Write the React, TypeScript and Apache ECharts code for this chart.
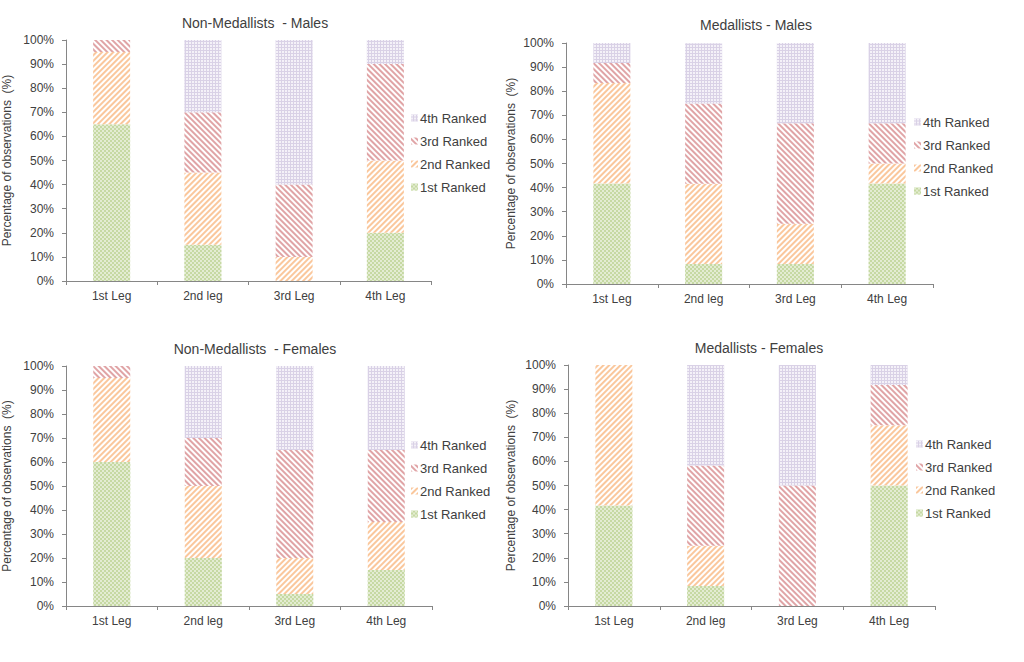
import React, { useEffect, useRef } from "react";
import * as echarts from "echarts";

const legs = ["1st Leg", "2nd leg", "3rd Leg", "4th Leg"];
const ranks = ["1st Ranked", "2nd Ranked", "3rd Ranked", "4th Ranked"];
const yTicks = [0, 10, 20, 30, 40, 50, 60, 70, 80, 90, 100];

const panelTitles = [
  "Non-Medallists  - Males",
  "Medallists - Males",
  "Non-Medallists  - Females",
  "Medallists - Females",
];

// Non-Medallists - Males
const nmMales1st = [65, 15, 0, 20];
const nmMales2nd = [30, 30, 10, 30];
const nmMales3rd = [5, 25, 30, 40];
const nmMales4th = [0, 30, 60, 10];

// Medallists - Males
const mMales1st = [41.7, 8.3, 8.3, 41.7];
const mMales2nd = [41.7, 33.3, 16.7, 8.3];
const mMales3rd = [8.3, 33.3, 41.7, 16.7];
const mMales4th = [8.3, 25, 33.3, 33.3];

// Non-Medallists - Females
const nmFemales1st = [60, 20, 5, 15];
const nmFemales2nd = [35, 30, 15, 20];
const nmFemales3rd = [5, 20, 45, 30];
const nmFemales4th = [0, 30, 35, 35];

// Medallists - Females
const mFemales1st = [41.7, 8.3, 0, 50];
const mFemales2nd = [58.3, 16.7, 0, 25];
const mFemales3rd = [0, 33.3, 50, 16.7];
const mFemales4th = [0, 41.7, 50, 8.3];

const panelData = [
  [nmMales1st, nmMales2nd, nmMales3rd, nmMales4th],
  [mMales1st, mMales2nd, mMales3rd, mMales4th],
  [nmFemales1st, nmFemales2nd, nmFemales3rd, nmFemales4th],
  [mFemales1st, mFemales2nd, mFemales3rd, mFemales4th],
];

const FONT = "Liberation Sans, Arial, sans-serif";
const AXIS = "#868686";
const TXT = "#404040";

const styles = [
  {
    color: "#e3ecd2",
    decal: {
      symbol: "rect",
      symbolSize: 1,
      dashArrayX: [[2, 2], [0, 2, 2, 0]],
      dashArrayY: [2, 0],
      color: "#c6d9a3",
    },
  },
  {
    color: "#ffffff",
    decal: {
      symbol: "rect",
      symbolSize: 1,
      dashArrayX: [1, 0],
      dashArrayY: [1.5, 1.5],
      rotation: -Math.PI / 4,
      color: "#fac79c",
    },
  },
  {
    color: "#ffffff",
    decal: {
      symbol: "rect",
      symbolSize: 1,
      dashArrayX: [1, 0],
      dashArrayY: [1.5, 1.5],
      rotation: Math.PI / 4,
      color: "#e0a4a6",
    },
  },
  {
    color: "#d9d1e6",
    decal: {
      symbol: "rect",
      symbolSize: 1,
      dashArrayX: [2, 1],
      dashArrayY: [2, 1],
      color: "#f4f1f8",
    },
  },
];

const grids = [
  { left: 65, top: 40, width: 366, height: 241 },
  { left: 566, top: 43, width: 367, height: 241 },
  { left: 65, top: 366, width: 367, height: 240 },
  { left: 568, top: 365, width: 367, height: 241 },
];
const titlePos = [
  { x: 250, y: 11 },
  { x: 751, y: 13 },
  { x: 250, y: 337 },
  { x: 754, y: 336 },
];
const legendPos = [
  { x: 406, y: 106 },
  { x: 909, y: 110 },
  { x: 406, y: 433 },
  { x: 911, y: 432 },
];
const nameGaps = [53, 49, 53, 51];

export default function App() {
  const ref = useRef<HTMLDivElement>(null);
  useEffect(() => {
    if (!ref.current) return;
    const chart = echarts.init(ref.current, undefined, { renderer: "svg" });
    const series: any[] = [];
    panelData.forEach((pd, g) => {
      pd.forEach((vals, r) => {
        series.push({
          type: "bar",
          name: ranks[r],
          xAxisIndex: g,
          yAxisIndex: g,
          stack: "s" + g,
          barWidth: 37,
          data: vals,
          itemStyle: { color: styles[r].color, decal: styles[r].decal },
        });
      });
    });
    const option: any = {
      animation: false,
      backgroundColor: "#ffffff",
      textStyle: { fontFamily: FONT },
      title: panelTitles.map((t, i) => ({
        text: t,
        left: titlePos[i].x,
        top: titlePos[i].y,
        textAlign: "center",
        textStyle: { fontFamily: FONT, fontSize: 14, fontWeight: "normal", color: TXT },
      })),
      legend: legendPos.map((p) => ({
        left: p.x,
        top: p.y,
        orient: "vertical",
        data: [ranks[3], ranks[2], ranks[1], ranks[0]],
        icon: "rect",
        itemWidth: 7,
        itemHeight: 7,
        itemGap: 9,
        selectedMode: false,
        textStyle: { fontFamily: FONT, fontSize: 13, color: TXT, lineHeight: 14, padding: [0, 0, 0, -3] },
      })),
      grid: grids.map((g) => ({ ...g, containLabel: false })),
      xAxis: grids.map((_, i) => ({
        type: "category",
        gridIndex: i,
        data: legs,
        axisLine: { lineStyle: { color: AXIS, width: 1 } },
        axisTick: { show: true, length: 4, lineStyle: { color: AXIS } },
        axisLabel: { fontFamily: FONT, fontSize: 12, color: TXT, margin: 9 },
        splitLine: { show: false },
      })),
      yAxis: grids.map((_, i) => ({
        type: "value",
        gridIndex: i,
        min: yTicks[0],
        max: yTicks[yTicks.length - 1],
        interval: 10,
        name: "Percentage of observations  (%)",
        nameLocation: "middle",
        nameGap: nameGaps[i],
        nameTextStyle: { fontFamily: FONT, fontSize: 12, color: TXT },
        axisLine: { show: true, lineStyle: { color: AXIS, width: 1 } },
        axisTick: { show: true, length: 4, lineStyle: { color: AXIS } },
        axisLabel: { fontFamily: FONT, fontSize: 12, color: TXT, margin: 12, formatter: "{value}%" },
        splitLine: { show: false },
      })),
      series,
    };
    chart.setOption(option);
    return () => chart.dispose();
  }, []);
  return (
    <div
      ref={ref}
      style={{ position: "fixed", left: 0, top: 0, width: 1024, height: 662, background: "#fff" }}
    />
  );
}
